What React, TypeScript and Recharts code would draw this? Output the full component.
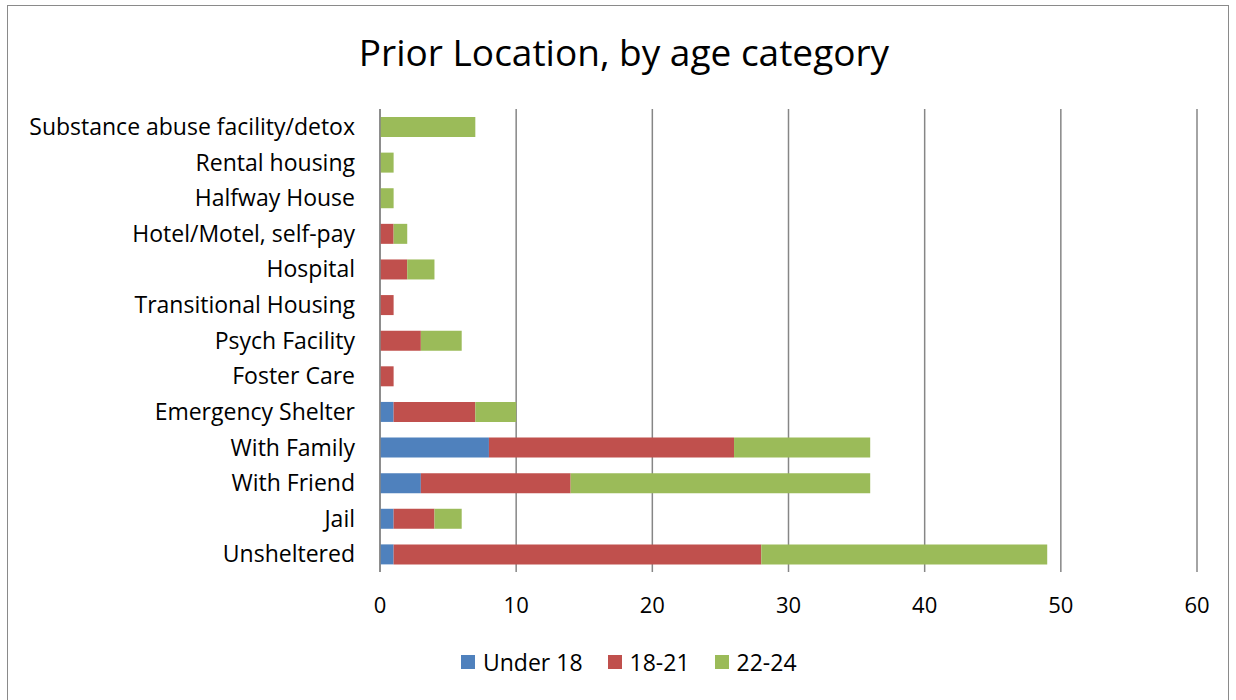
import { BarChart, Bar, XAxis, YAxis, CartesianGrid } from "recharts";

const categories = [
  "Substance abuse facility/detox",
  "Rental housing",
  "Halfway House",
  "Hotel/Motel, self-pay",
  "Hospital",
  "Transitional Housing",
  "Psych Facility",
  "Foster Care",
  "Emergency Shelter",
  "With Family",
  "With Friend",
  "Jail",
  "Unsheltered",
];

const under18 = [0, 0, 0, 0, 0, 0, 0, 0, 1, 8, 3, 1, 1];
const age18to21 = [0, 0, 0, 1, 2, 1, 3, 1, 6, 18, 11, 3, 27];
const age22to24 = [7, 1, 1, 1, 2, 0, 3, 0, 3, 10, 22, 2, 21];

const xTicks = [0, 10, 20, 30, 40, 50, 60];

const series = [
  { key: "under18", name: "Under 18", color: "#4F81BD" },
  { key: "age18to21", name: "18-21", color: "#C0504D" },
  { key: "age22to24", name: "22-24", color: "#9BBB59" },
];

const data = categories.map((name, i) => ({
  name,
  under18: under18[i],
  age18to21: age18to21[i],
  age22to24: age22to24[i],
}));

const font = "'Open Sans', sans-serif";

const App = () => {
  return (
    <div style={{ position: "absolute", left: 0, top: 0, width: 1236, height: 700, background: "#fff", fontFamily: font }}>
      <div
        style={{
          position: "absolute",
          left: 7,
          top: 5,
          width: 1222,
          height: 700,
          border: "1.5px solid #8a8a8a",
          boxSizing: "border-box",
        }}
      />
      <div
        style={{
          position: "absolute",
          left: 0,
          width: 1236,
          top: 27,
          textAlign: "center",
          fontSize: 37,
          lineHeight: "50px",
          color: "#000",
          paddingLeft: 12,
          boxSizing: "border-box",
        }}
      >
        Prior Location, by age category
      </div>
      <BarChart
        width={1236}
        height={700}
        data={data}
        layout="vertical"
        margin={{ top: 109, right: 39, bottom: 98, left: 0 }}
        barSize={20}
        style={{ position: "absolute", left: 0, top: 0 }}
      >
        <CartesianGrid horizontal={false} vertical stroke="#868686" strokeWidth={1.5} />
        <XAxis
          type="number"
          domain={[0, 60]}
          ticks={xTicks}
          axisLine={false}
          tickLine={false}
          tickMargin={19}
          tick={{ fill: "#000", fontSize: 22, fontFamily: font }}
        />
        <YAxis
          type="category"
          dataKey="name"
          width={380}
          axisLine={{ stroke: "#868686", strokeWidth: 1.5 }}
          tickLine={false}
          tickSize={0}
          tickMargin={25}
          interval={0}
          tick={{ fill: "#000", fontSize: 23, fontFamily: font }}
        />
        {series.map((s) => (
          <Bar key={s.key} dataKey={s.key} name={s.name} stackId="a" fill={s.color} isAnimationActive={false} />
        ))}
      </BarChart>
      <div
        style={{
          position: "absolute",
          top: 647,
          left: 461,
          display: "flex",
          alignItems: "center",
          fontSize: 23,
          lineHeight: "30px",
          color: "#000",
        }}
      >
        {series.map((s) => (
          <div key={s.key} style={{ display: "flex", alignItems: "center", marginRight: 25 }}>
            <span style={{ display: "inline-block", width: 14, height: 14, background: s.color, marginRight: 8 }} />
            <span>{s.name}</span>
          </div>
        ))}
      </div>
    </div>
  );
};

export default App;
